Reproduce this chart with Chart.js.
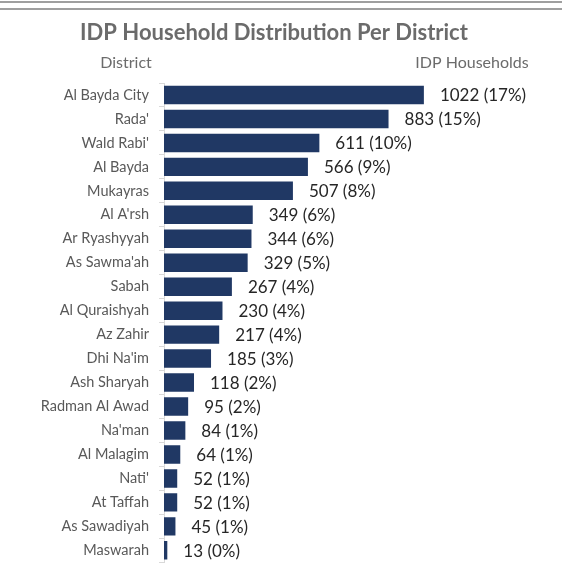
<!DOCTYPE html>
<html>
<head>
<meta charset="utf-8">
<script src="https://cdn.jsdelivr.net/npm/chart.js@4"></script>
<style>
  html, body { margin: 0; padding: 0; background: #ffffff; }
  #wrap { position: relative; width: 562px; height: 581px; }
  #barChart { position: absolute; left: 0; top: 0; }
  .rule { position: absolute; left: 0; right: 0; height: 2px; background: #9f9f9f; z-index: 10; }
</style>
</head>
<body>
<div id="wrap">
  <canvas id="barChart" width="562" height="581"></canvas>
  <div class="rule" style="top:1px"></div>
  <div class="rule" style="top:8px"></div>
</div>
<script>
const districts = [
  'Al Bayda City', "Rada'", "Wald Rabi'", 'Al Bayda', 'Mukayras', "Al A'rsh",
  'Ar Ryashyyah', "As Sawma'ah", 'Sabah', 'Al Quraishyah', 'Az Zahir', "Dhi Na'im",
  'Ash Sharyah', 'Radman Al Awad', "Na'man", 'Al Malagim', "Nati'", 'At Taffah',
  'As Sawadiyah', 'Maswarah'
];
const households = [1022, 883, 611, 566, 507, 349, 344, 329, 267, 230, 217, 185, 118, 95, 84, 64, 52, 52, 45, 13];
const shares     = [17, 15, 10, 9, 8, 6, 6, 5, 4, 4, 4, 3, 2, 2, 1, 1, 1, 1, 1, 0];

const FONT = 'Lato, "Open Sans", sans-serif';

/* titres et étiquettes de valeurs */
const decorPlugin = {
  id: 'decor',
  beforeDraw(chart) {
    const { ctx } = chart;
    ctx.save();
    ctx.fillStyle = '#6b6b6b';
    ctx.textBaseline = 'middle';
    ctx.textAlign = 'center';
    ctx.font = 'bold 22px ' + FONT;
    ctx.fillText('IDP Household Distribution Per District', 274, 33);
    ctx.font = '16px ' + FONT;
    ctx.fillText('District', 126, 63);
    ctx.fillText('IDP Households', 472, 63);
    ctx.restore();
  },
  afterDatasetsDraw(chart) {
    const { ctx } = chart;
    const meta = chart.getDatasetMeta(0);
    ctx.save();
    ctx.fillStyle = '#262626';
    ctx.font = '17px ' + FONT;
    ctx.textAlign = 'left';
    ctx.textBaseline = 'middle';
    meta.data.forEach((bar, i) => {
      ctx.fillText(`${households[i]} (${shares[i]}%)`, bar.x + 16, bar.y + 1);
    });
    ctx.restore();
  },
};

new Chart(document.getElementById('barChart'), {
  type: 'bar',
  data: {
    labels: districts,
    datasets: [{
      data:               households,
      backgroundColor:    '#203864',
      borderWidth:        0,
      barPercentage:      1,
      categoryPercentage: 0.77,
    }],
  },
  options: {
    indexAxis:           'y',
    responsive:          false,
    animation:           false,
    layout: { padding: { top: 83, bottom: 7, right: 42, left: 0 } },
    plugins: {
      legend:  { display: false },
      tooltip: { enabled: false },
    },
    scales: {
      x: { display: false, min: 0, max: 1400 },
      y: {
        afterFit: (scale) => { scale.width = 164; },
        grid:   { drawOnChartArea: false, color: '#d9d9d9', tickLength: 5, offset: true },
        border: { color: '#d9d9d9' },
        ticks:  { color: '#595959', font: { family: FONT, size: 14.5 }, padding: 10, autoSkip: false },
      },
    },
  },
  plugins: [decorPlugin],
});
</script>
</body>
</html>
